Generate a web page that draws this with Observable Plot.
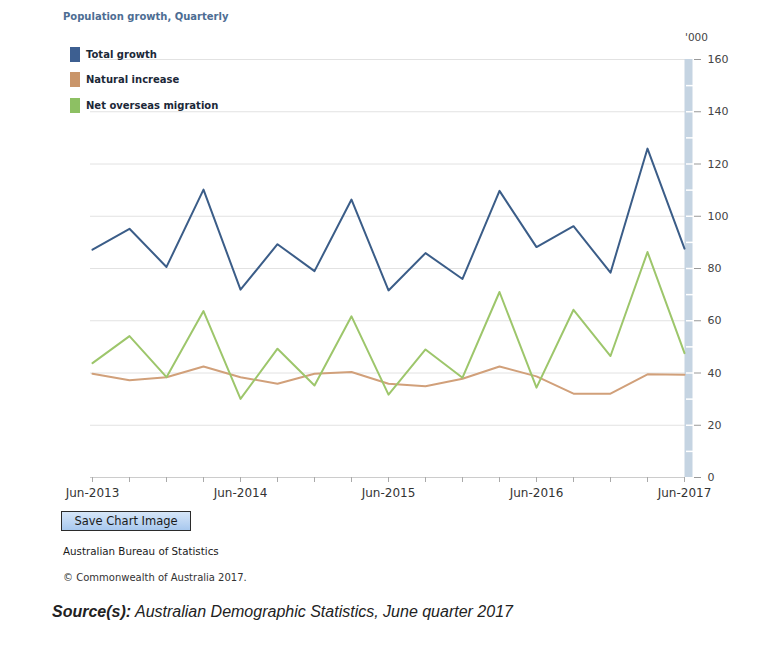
<!DOCTYPE html>
<html>
<head>
<meta charset="utf-8">
<script src="https://cdn.jsdelivr.net/npm/d3@7"></script>
<script src="https://cdn.jsdelivr.net/npm/@observablehq/plot@0.6"></script>
<style>
  body { margin: 0; background: #fff; }
  #wrap { position: relative; width: 780px; height: 650px; overflow: hidden; font-family: "DejaVu Sans", sans-serif; }
  #chart { position: absolute; left: 0; top: 0; }
  .abs { position: absolute; white-space: nowrap; }
  #title { left: 63px; top: 11px; font-size: 10px; font-weight: bold; color: #4d6d93; }
  .leg { left: 70px; height: 15px; font-size: 10px; font-weight: bold; color: #1b2838; line-height: 15px; }
  .leg span.sw { display: inline-block; width: 10px; height: 15px; vertical-align: top; margin-right: 6px; }
  #units { left: 685px; top: 31px; font-size: 10.5px; color: #444; }
  #btn { left: 61px; top: 511px; width: 128px; height: 18px; border: 1px solid #2b2b2b;
         background: linear-gradient(#d6e6f8, #a8c8ee); font-size: 11.5px; color: #1a1a1a;
         text-align: center; line-height: 18px; }
  #abs1 { left: 63px; top: 545px; font-size: 10.3px; color: #1a1a1a; }
  #abs2 { left: 63px; top: 572px; font-size: 10px; color: #333; }
  #src { left: 52px; top: 603px; font-family: "Liberation Sans", Arial, sans-serif; font-style: italic; font-size: 16px; color: #222; }
</style>
</head>
<body>
<div id="wrap">
  <div id="chart"></div>
  <div class="abs" id="title">Population growth, Quarterly</div>
  <div class="abs" id="units">'000</div>
  <div id="legend"></div>
  <div class="abs" id="btn">Save Chart Image</div>
  <div class="abs" id="abs1">Australian Bureau of Statistics</div>
  <div class="abs" id="abs2">© Commonwealth of Australia 2017.</div>
  <div class="abs" id="src"><b>Source(s):</b> Australian Demographic Statistics, June quarter 2017</div>
</div>
<script>
const quarters = ["Jun-2013","Sep-2013","Dec-2013","Mar-2014","Jun-2014","Sep-2014","Dec-2014","Mar-2015",
  "Jun-2015","Sep-2015","Dec-2015","Mar-2016","Jun-2016","Sep-2016","Dec-2016","Mar-2017","Jun-2017"];
const totalGrowth = [87.2,95.2,80.6,110.2,71.9,89.3,79.0,106.4,71.6,85.9,76.0,109.7,88.2,96.2,78.4,125.9,87.6];
const naturalIncrease = [39.7,37.2,38.4,42.5,38.4,35.9,39.7,40.4,35.9,34.9,37.8,42.5,38.7,32.1,32.1,39.5,39.3];
const netOverseasMigration = [43.8,54.1,38.4,63.7,30.1,49.3,35.2,61.7,31.7,49.0,38.2,71.0,34.4,64.2,46.5,86.3,47.6];
const seriesNames = ["Total growth","Natural increase","Net overseas migration"];
const seriesColors = ["#3b5d88","#d1a07a","#9dc66b"];
const swatchColors = ["#3d5f91","#c9956a","#8dc063"];
const yTicks = [0,20,40,60,80,100,120,140,160];

const seriesValues = [totalGrowth, naturalIncrease, netOverseasMigration];
const data = [];
seriesNames.forEach((name, s) => {
  quarters.forEach((q, i) => data.push({quarter: q, value: seriesValues[s][i], series: name}));
});

const chart = Plot.plot({
  width: 780,
  height: 500,
  marginTop: 59,
  marginBottom: 23,
  marginLeft: 90,
  marginRight: 95,
  style: {fontFamily: "DejaVu Sans, sans-serif", fontSize: "11px", background: "transparent", overflow: "visible"},
  x: {type: "point", domain: quarters, padding: 0, label: null},
  y: {domain: [0, 160], label: null},
  color: {domain: seriesNames, range: seriesColors},
  marks: [
    Plot.gridY(yTicks.filter(d => d > 0), {stroke: "#e2e2e2", strokeOpacity: 1}),
    Plot.ruleY([0], {stroke: "#cccccc"}),
    Plot.ruleX([quarters[quarters.length - 1]], {y1: 0, y2: 160, stroke: "#c5d4e2", strokeWidth: 8, dx: 4}),
    Plot.axisY({anchor: "right", ticks: d3.range(10, 160, 10), tickSize: 8, stroke: "#ffffff", strokeOpacity: 1, strokeWidth: 1.5, tickFormat: () => "", label: null}),
    Plot.axisY({anchor: "right", ticks: yTicks, tickSize: 7, dx: 8, tickPadding: 7, stroke: "#999", fill: "#444", fontSize: 11, tickFormat: d => d, label: null}),
    Plot.axisX({ticks: quarters, tickSize: 5, tickPadding: 6, stroke: "#aaa", fill: "#333", fontSize: 12,
      tickFormat: d => d.startsWith("Jun") ? d : "", label: null}),
    Plot.line(data, {x: "quarter", y: "value", z: "series", stroke: "series", strokeWidth: 2})
  ]
});
document.getElementById("chart").appendChild(chart);

const legend = document.getElementById("legend");
const legTops = [47, 72, 98];
seriesNames.forEach((name, i) => {
  const div = document.createElement("div");
  div.className = "abs leg";
  div.style.top = legTops[i] + "px";
  div.innerHTML = `<span class="sw" style="background:${swatchColors[i]}"></span>${name}`;
  legend.appendChild(div);
});
</script>
</body>
</html>
